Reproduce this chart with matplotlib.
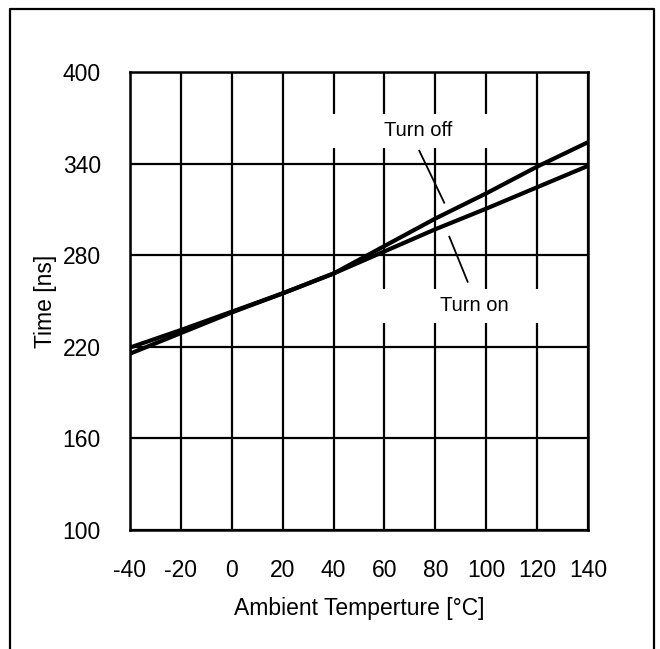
import matplotlib
matplotlib.use("Agg")
import matplotlib.pyplot as plt
from matplotlib.patches import Rectangle
from matplotlib.lines import Line2D

plt.rcParams['font.family'] = ['Liberation Sans', 'DejaVu Sans']
plt.rcParams['axes.unicode_minus'] = False

temperature = [-40, -20, 0, 20, 40, 60, 80, 100, 120, 140]
turn_off = [215.5, 229, 242.5, 255, 268, 286, 304, 320.5, 338, 354]
turn_on = [219.5, 231, 243, 255, 268, 282.5, 297, 310.5, 324.5, 338.5]
x_ticks = [-40, -20, 0, 20, 40, 60, 80, 100, 120, 140]
y_ticks = [100, 160, 220, 280, 340, 400]
x_label = "Ambient Temperture [°C]"
y_label = "Time [ns]"
label_off = "Turn off"
label_on = "Turn on"

fig = plt.figure(figsize=(6.6, 6.49), dpi=100)
ax = fig.add_axes([130/660, 1-530/649, 458/660, 458/649])

ax.set_xlim(-40, 140)
ax.set_ylim(100, 400)
ax.set_xticks(x_ticks)
ax.set_yticks(y_ticks)
ax.grid(True, color='black', linewidth=1.6, zorder=1)
ax.set_axisbelow(True)
for s in ax.spines.values():
    s.set_linewidth(1.8)
    s.set_zorder(5)
ax.tick_params(length=0, labelsize=16.5, pad=21)

# label backgrounds hiding grid
ax.add_patch(Rectangle((33.9, 350.2), 78.6, 22.3, facecolor='white', edgecolor='none', zorder=2))
ax.add_patch(Rectangle((55.9, 235.6), 78.6, 22.3, facecolor='white', edgecolor='none', zorder=2))

ax.plot(temperature, turn_off, color='black', linewidth=3.0, zorder=3)
ax.plot(temperature, turn_on, color='black', linewidth=3.0, zorder=3)

ax.text(73.2, 361.4, label_off, fontsize=14.5, ha='center', va='center', zorder=4)
ax.text(95.2, 247.0, label_on, fontsize=14.5, ha='center', va='center', zorder=4)
ax.plot([73.7, 83.5], [348.4, 314.4], color='black', linewidth=1.3, zorder=4)
ax.plot([85.5, 92.7], [292.1, 262.6], color='black', linewidth=1.3, zorder=4)

ax.set_xlabel(x_label, fontsize=16.5, labelpad=11)
ax.set_ylabel(y_label, fontsize=16.5, labelpad=4)

# outer frame (open at bottom)
fx0, fx1, fy1 = 10/660, 654/660, 1-9/649
fig.add_artist(Line2D([fx0, fx0, fx1, fx1], [0, fy1, fy1, 0], color='black', linewidth=1.6, transform=fig.transFigure))

fig.savefig("out.png", dpi=100)
